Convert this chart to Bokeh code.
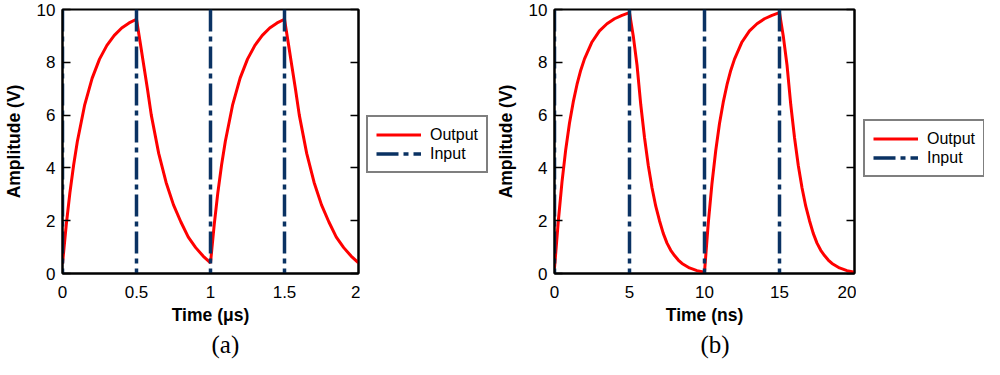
from bokeh.plotting import figure
from bokeh.models import (Range1d, LinearAxis, FixedTicker, Legend, LegendItem, Title,
                          CustomJSTickFormatter)
from bokeh.layouts import row
from bokeh.embed import file_html
from bokeh.resources import INLINE

# ---------------- data: panel (a), time in microseconds ----------------
time_a = [0, 0.025, 0.05, 0.075, 0.1, 0.15, 0.2, 0.25, 0.3, 0.35, 0.4, 0.45, 0.5,
          0.525, 0.55, 0.575, 0.6, 0.65, 0.7, 0.75, 0.8, 0.85, 0.9, 0.95, 1.0,
          1.025, 1.05, 1.075, 1.1, 1.15, 1.2, 1.25, 1.3, 1.35, 1.4, 1.45, 1.5,
          1.525, 1.55, 1.575, 1.6, 1.65, 1.7, 1.75, 1.8, 1.85, 1.9, 1.95, 2.0]
output_a = [0.37, 1.82, 3.06, 4.10, 4.99, 6.39, 7.39, 8.12, 8.64, 9.02, 9.30, 9.49, 9.63,
            8.75, 7.85, 6.95, 6.00, 4.55, 3.45, 2.60, 1.95, 1.38, 0.98, 0.66, 0.40,
            1.84, 3.08, 4.12, 5.00, 6.40, 7.40, 8.12, 8.64, 9.02, 9.30, 9.49, 9.63,
            8.75, 7.85, 6.95, 6.00, 4.55, 3.45, 2.60, 1.95, 1.38, 0.98, 0.66, 0.40]
input_switch_a = [0, 0.5, 1.0, 1.5]

# ---------------- data: panel (b), time in nanoseconds ----------------
time_b = [0, 0.25, 0.5, 0.75, 1.0, 1.25, 1.5, 1.75, 2.0, 2.5, 3.0, 3.5, 4.0, 4.5, 5.0,
          5.25, 5.5, 5.75, 6.0, 6.25, 6.5, 6.75, 7.0, 7.25, 7.5, 7.75, 8.0, 8.25, 8.5,
          9.0, 9.5, 10.0,
          10.25, 10.5, 10.75, 11.0, 11.25, 11.5, 11.75, 12.0, 12.5, 13.0, 13.5, 14.0, 14.5, 15.0,
          15.25, 15.5, 15.75, 16.0, 16.25, 16.5, 16.75, 17.0, 17.25, 17.5, 17.75, 18.0, 18.25,
          18.5, 19.0, 19.5, 20.0]
output_b = [0.20, 1.96, 3.47, 4.70, 5.70, 6.50, 7.16, 7.70, 8.13, 8.77, 9.19, 9.46, 9.65,
            9.78, 9.88,
            9.00, 7.90, 6.40, 5.15, 4.10, 3.25, 2.55, 2.00, 1.52, 1.15, 0.88, 0.68, 0.51, 0.38,
            0.21, 0.11, 0.05,
            1.90, 3.42, 4.66, 5.68, 6.49, 7.15, 7.69, 8.12, 8.77, 9.19, 9.46, 9.65, 9.78, 9.88,
            9.00, 7.90, 6.40, 5.15, 4.10, 3.25, 2.55, 2.00, 1.52, 1.15, 0.88, 0.68, 0.51,
            0.38, 0.21, 0.11, 0.05]
input_switch_b = [0, 5, 10, 15]

input_low = 0
input_high = 10

# ---------------- axes / labels ----------------
y_ticks = [0, 2, 4, 6, 8, 10]
x_ticks_a = [0, 0.5, 1, 1.5, 2]
x_tick_labels_a = ["0", "0.5", "1", "1.5", "2"]
x_ticks_b = [0, 5, 10, 15, 20]
x_tick_labels_b = ["0", "5", "10", "15", "20"]
y_title = "Amplitude (V)"
x_title_a = "Time (μs)"
x_title_b = "Time (ns)"
series_names = ["Output", "Input"]
captions = ["(a)", "(b)"]

RED = "#ff0000"
BLUE = "#0a3263"
FONT = "Liberation Sans"
H = 359
OUT_STYLE = dict(line_color=RED, line_width=3)
IN_STYLE = dict(line_color=BLUE, line_width=3.5, line_dash="22 5 5 5")


def style_axis(ax, ticks, show_labels=True, tick_in=8):
    ax.ticker = FixedTicker(ticks=ticks)
    ax.minor_tick_line_color = None
    ax.major_tick_in = tick_in
    ax.major_tick_out = 0
    ax.major_tick_line_color = "black" if tick_in > 0 else None
    ax.major_tick_line_width = 1.5
    ax.axis_line_color = "black"
    ax.axis_line_width = 2
    ax.major_label_text_font = FONT
    ax.major_label_text_color = "black"
    ax.major_label_text_font_size = "17px"
    if not show_labels:
        ax.formatter = CustomJSTickFormatter(code="return ''")
        ax.major_label_standoff = 0


def make_panel(t, v, switches, x_end, x_ticks, x_labels, x_title, caption,
               width, left, caption_offset):
    p = figure(width=width, height=H, x_range=Range1d(0, x_end), y_range=Range1d(0, 10),
               output_backend="svg", toolbar_location=None,
               min_border_left=left, min_border_right=2,
               min_border_top=9, min_border_bottom=0)
    p.grid.visible = False
    p.outline_line_color = "black"
    p.outline_line_width = 2
    p.background_fill_color = "white"
    p.border_fill_color = "white"

    p.line(t, v, **OUT_STYLE)
    n = len(switches)
    p.segment(x0=switches, y0=[input_high] * n, x1=switches, y1=[input_low] * n, **IN_STYLE)

    # bottom axis
    xa = p.xaxis[0]
    style_axis(xa, x_ticks, tick_in=0)
    xa.major_label_overrides = {tk: lb for tk, lb in zip(x_ticks, x_labels)}
    xa.major_label_standoff = 12
    xa.axis_label = x_title
    xa.axis_label_text_font = FONT
    xa.axis_label_text_font_style = "bold"
    xa.axis_label_text_font_size = "17.5px"
    xa.axis_label_text_color = "black"
    xa.axis_label_standoff = 4

    # left axis
    ya = p.yaxis[0]
    style_axis(ya, y_ticks)
    ya.major_label_standoff = 7
    ya.axis_label = y_title
    ya.axis_label_text_font = FONT
    ya.axis_label_text_font_style = "bold"
    ya.axis_label_text_font_size = "17.5px"
    ya.axis_label_text_color = "black"
    ya.axis_label_standoff = 10

    # right axis: inward ticks only
    ra = LinearAxis()
    style_axis(ra, y_ticks, show_labels=False)
    p.add_layout(ra, "right")

    cap = Title(text=caption, align="left", vertical_align="bottom",
                text_font="Liberation Serif", text_font_size="25px",
                text_font_style="normal", text_color="black",
                offset=caption_offset, standoff=3)
    p.add_layout(cap, "below")
    return p


def make_legend_box(t, v, width, x, y):
    # the series are drawn off-range here; only their legend swatches show
    lf = figure(width=width, height=H, x_range=Range1d(-2, -1), y_range=Range1d(-2, -1),
                output_backend="svg", toolbar_location=None,
                x_axis_type=None, y_axis_type=None,
                min_border_left=0, min_border_right=0, min_border_top=0, min_border_bottom=0)
    lf.grid.visible = False
    lf.outline_line_color = None
    lf.background_fill_color = "white"
    lf.border_fill_color = "white"
    r_out = lf.line(t, v, **OUT_STYLE)
    r_in = lf.line(t, v, **IN_STYLE)
    legend = Legend(items=[LegendItem(label=series_names[0], renderers=[r_out]),
                           LegendItem(label=series_names[1], renderers=[r_in])],
                    location=(x, y), orientation="vertical")
    legend.margin = 0
    legend.padding = 8
    legend.spacing = 0
    legend.glyph_width = 45
    legend.glyph_height = 19
    legend.label_height = 19
    legend.label_standoff = 9
    legend.label_text_font = FONT
    legend.label_text_font_size = "16px"
    legend.label_text_color = "black"
    legend.border_line_color = "black"
    legend.border_line_width = 2
    legend.background_fill_color = "white"
    legend.background_fill_alpha = 1
    lf.add_layout(legend, "center")
    return lf


pa = make_panel(time_a, output_a, input_switch_a, 2, x_ticks_a, x_tick_labels_a,
                x_title_a, captions[0], width=360, left=56, caption_offset=149)
la = make_legend_box(time_a, output_a, 128, 6, 100)
pb = make_panel(time_b, output_b, input_switch_b, 20, x_ticks_b, x_tick_labels_b,
                x_title_b, captions[1], width=368, left=66, caption_offset=146)
lb = make_legend_box(time_b, output_b, 128, 7, 96)

layout = row(pa, la, pb, lb)
open("out.html", "w").write(file_html(layout, INLINE))
